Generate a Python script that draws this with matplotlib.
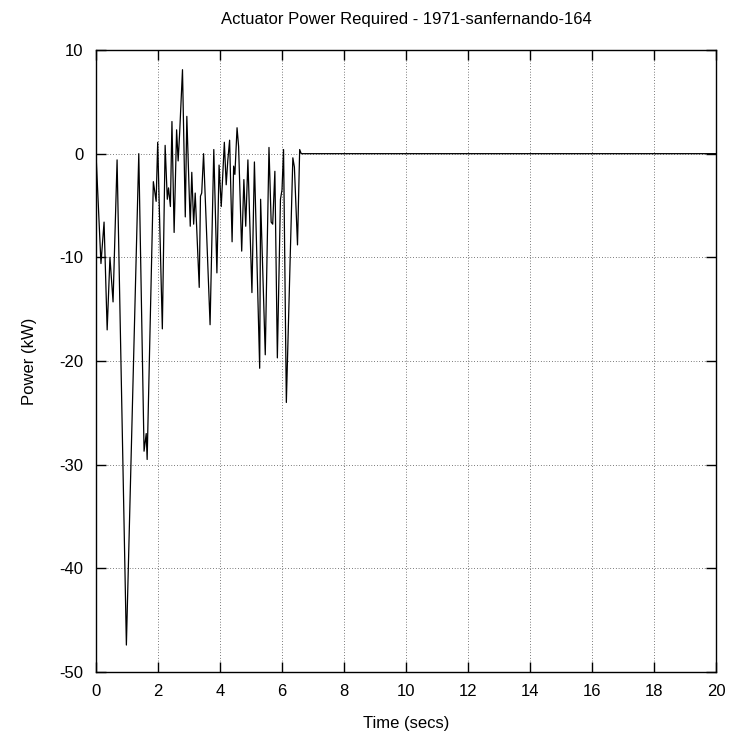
import numpy as np
import matplotlib.pyplot as plt

plt.rc('font', family=['Liberation Sans', 'DejaVu Sans'], size=12)
plt.rc('axes', unicode_minus=False)

# values
time = [0.00, 0.16, 0.26, 0.36, 0.45, 0.55, 0.68, 0.98, 1.38, 1.55,
        1.62, 1.65, 1.85, 1.94, 1.99, 2.14, 2.23, 2.30, 2.34, 2.40,
        2.45, 2.52, 2.60, 2.65, 2.70, 2.79, 2.88, 2.93, 3.04, 3.09,
        3.15, 3.20, 3.33, 3.37, 3.41, 3.47, 3.68, 3.80, 3.90, 3.97,
        4.04, 4.14, 4.20, 4.25, 4.31, 4.39, 4.44, 4.48, 4.55, 4.60,
        4.70, 4.77, 4.83, 4.90, 5.03, 5.11, 5.28, 5.31, 5.46, 5.58,
        5.65, 5.70, 5.77, 5.85, 5.95, 6.00, 6.05, 6.14, 6.35, 6.40,
        6.50, 6.57, 6.62, 20.0]
power = [0.0, -10.6, -6.6, -17.0, -10.0, -14.3, -0.6, -47.4, 0.0, -28.7,
         -27.0, -29.5, -2.7, -4.6, 1.1, -16.9, 0.8, -4.4, -3.3, -5.1,
         3.1, -7.6, 2.3, -0.7, 2.1, 8.1, -6.1, 3.6, -7.0, -1.8,
         -6.8, -3.8, -12.9, -4.1, -3.8, 0.0, -16.5, 0.4, -11.5, -1.1,
         -5.1, 1.1, -3.0, -0.7, 1.3, -8.5, -1.2, -2.0, 2.5, 0.7,
         -9.4, -2.5, -7.0, -0.6, -13.4, -0.8, -20.7, -4.4, -19.4, 0.6,
         -6.6, -6.8, -1.7, -19.7, -4.4, -3.5, 0.4, -24.0, -0.4, -1.3,
         -8.8, 0.4, 0.0, 0.0]

fig = plt.figure(figsize=(7.32, 7.38), dpi=100)
ax = fig.add_axes([96/732, 1-672/738, 620/732, 622/738])

ax.plot(time, power, color="black", linewidth=0.9)

ax.set_xlim([0, 20])
ax.set_ylim([-50, 10])
ax.set_xticks(np.arange(0, 21, 2))
ax.set_yticks(np.arange(-50, 11, 10))
ax.grid(True, color="black", linestyle=(0, (1, 3)), linewidth=0.5)
ax.tick_params(direction="in", length=7, width=1, top=True, right=True, pad=9)
for s in ax.spines.values():
    s.set_linewidth(1)

ax.set_title("Actuator Power Required - 1971-sanfernando-164", fontsize=12, pad=19)
ax.set_xlabel("Time (secs)", labelpad=12)
ax.set_ylabel("Power (kW)", labelpad=16)

plt.savefig("out.png", dpi=100)
